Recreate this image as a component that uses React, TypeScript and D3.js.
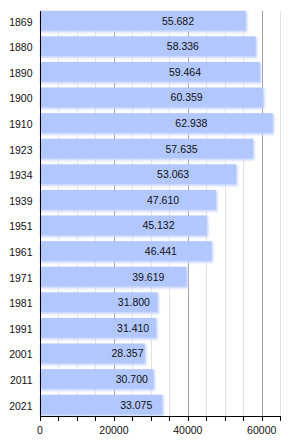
import React, { useRef, useEffect } from "react";
import * as d3 from "d3";

const years = [
  "1869", "1880", "1890", "1900", "1910", "1923", "1934", "1939",
  "1951", "1961", "1971", "1981", "1991", "2001", "2011", "2021",
];
const population = [
  55682, 58336, 59464, 60359, 62938, 57635, 53063, 47610,
  45132, 46441, 39619, 31800, 31410, 28357, 30700, 33075,
];
const labels = [
  "55.682", "58.336", "59.464", "60.359", "62.938", "57.635", "53.063", "47.610",
  "45.132", "46.441", "39.619", "31.800", "31.410", "28.357", "30.700", "33.075",
];
const tickLabels = [0, 20000, 40000, 60000];

function App() {
  const ref = useRef<SVGSVGElement>(null);

  useEffect(() => {
    document.body.style.margin = "0";
    const width = 300;
    const height = 440;
    const font = "'Liberation Sans', Arial, sans-serif";

    const svg = d3
      .select(ref.current)
      .attr("width", width)
      .attr("height", height)
      .style("display", "block")
      .style("font-family", font);

    svg.selectAll("*").remove();

    const x = d3.scaleLinear().domain([0, 65000]).range([40, 280.2]);
    const y = d3
      .scaleBand<string>()
      .domain(years)
      .range([8.2, 417.8])
      .paddingInner(0.2)
      .paddingOuter(0.1);

    const top = 11;
    const bottom = 416.5;

    const defs = svg.append("defs");
    defs
      .append("filter")
      .attr("id", "soft")
      .attr("x", "-10%")
      .attr("y", "-30%")
      .attr("width", "120%")
      .attr("height", "160%")
      .append("feGaussianBlur")
      .attr("stdDeviation", 1.3);

    // grid lines every 5000, darker every 20000
    const grid = d3.range(5000, 65001, 5000);
    svg
      .append("g")
      .selectAll("line")
      .data(grid)
      .enter()
      .append("line")
      .attr("x1", (d) => Math.round(x(d)) + 0.5)
      .attr("x2", (d) => Math.round(x(d)) + 0.5)
      .attr("y1", top)
      .attr("y2", bottom)
      .attr("stroke", (d) => (d % 20000 === 0 ? "#a0a0a0" : "#e2e2e2"))
      .attr("stroke-width", 1);

    // blurred shadow behind bars
    svg
      .append("g")
      .attr("filter", "url(#soft)")
      .selectAll("rect")
      .data(population)
      .enter()
      .append("rect")
      .attr("x", x(0))
      .attr("y", (d, i) => (y(years[i]) as number) + 1)
      .attr("width", (d) => x(d) - x(0) + 1.5)
      .attr("height", y.bandwidth())
      .attr("fill", "#c4d3ff");

    // bars
    svg
      .append("g")
      .selectAll("rect")
      .data(population)
      .enter()
      .append("rect")
      .attr("x", x(0))
      .attr("y", (d, i) => y(years[i]) as number)
      .attr("width", (d) => x(d) - x(0))
      .attr("height", y.bandwidth() - 1)
      .attr("fill", "#b3c7ff");

    // value labels
    svg
      .append("g")
      .selectAll("text")
      .data(population)
      .enter()
      .append("text")
      .attr("x", (d) => x((d + 19000) / 2))
      .attr("y", (d, i) => (y(years[i]) as number) + y.bandwidth() / 2)
      .attr("dy", "0.35em")
      .attr("text-anchor", "middle")
      .attr("font-size", 10.5)
      .attr("fill", "#111")
      .text((d, i) => labels[i]);

    // year labels
    svg
      .append("g")
      .selectAll("text")
      .data(years)
      .enter()
      .append("text")
      .attr("x", 32.5)
      .attr("y", (d) => (y(d) as number) + y.bandwidth() / 2 + 1)
      .attr("dy", "0.35em")
      .attr("text-anchor", "end")
      .attr("font-size", 10.5)
      .attr("fill", "#111")
      .text((d) => d);

    // axes
    svg
      .append("line")
      .attr("x1", 40.5)
      .attr("x2", 40.5)
      .attr("y1", top)
      .attr("y2", bottom + 0.5)
      .attr("stroke", "#000");

    svg
      .append("line")
      .attr("x1", 40)
      .attr("x2", 281)
      .attr("y1", bottom)
      .attr("y2", bottom)
      .attr("stroke", "#000");

    svg
      .append("g")
      .selectAll("line")
      .data(d3.range(0, 65001, 5000))
      .enter()
      .append("line")
      .attr("x1", (d) => Math.round(x(d)) + 0.5)
      .attr("x2", (d) => Math.round(x(d)) + 0.5)
      .attr("y1", bottom)
      .attr("y2", bottom + 4.5)
      .attr("stroke", "#000");

    svg
      .append("g")
      .selectAll("text")
      .data(tickLabels)
      .enter()
      .append("text")
      .attr("x", (d) => x(d))
      .attr("y", 430)
      .attr("dy", "0.35em")
      .attr("text-anchor", "middle")
      .attr("font-size", 10.5)
      .attr("fill", "#111")
      .text((d) => String(d));
  }, []);

  return <svg ref={ref} width={300} height={440} />;
}

export default App;
